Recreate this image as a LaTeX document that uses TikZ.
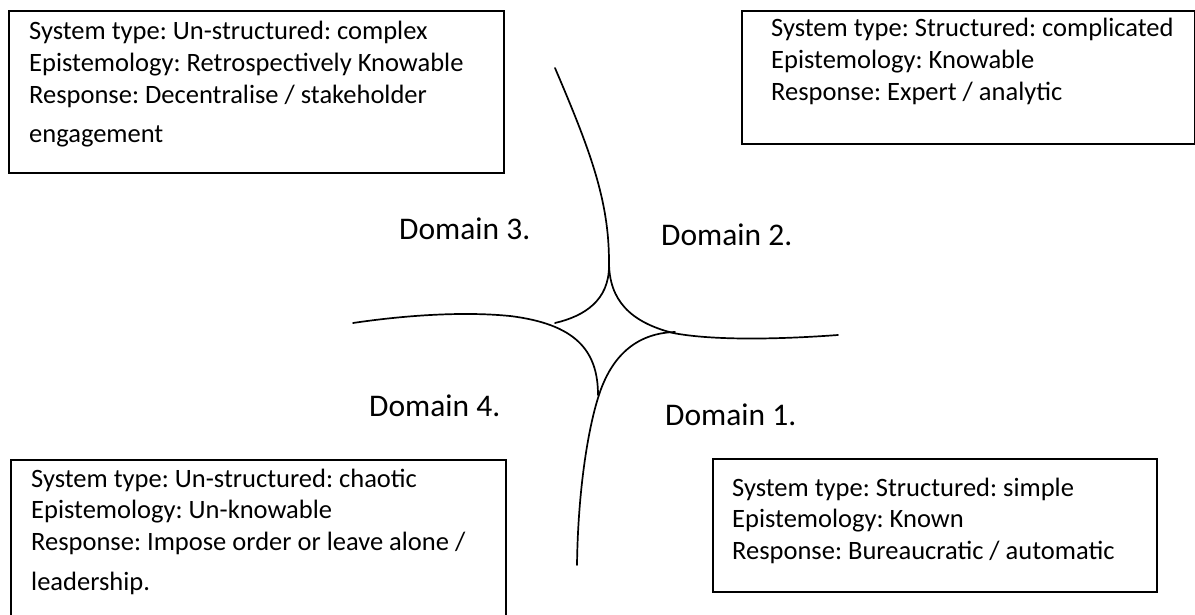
\documentclass[tikz,border=0pt]{standalone}
\usepackage{fontspec}
\setmainfont{Carlito}
\frenchspacing
\begin{document}
\begin{tikzpicture}[x=1pt,y=-1pt,
  frame/.style={draw, line width=1.8pt, inner sep=0pt, anchor=north west},
  info/.style={anchor=base west, inner sep=0pt, font=\fontsize{26.5}{31.8}\selectfont},
  dom/.style={anchor=base west, inner sep=0pt, font=\fontsize{31.5}{38}\selectfont},
  rim/.style={line width=1.7pt, line cap=round}]
\useasboundingbox (0,0) rectangle (1195,615);

% description frames
\node[frame, minimum width=495pt, minimum height=162pt] (frame3) at (8,10) {};
\node[frame, minimum width=453pt, minimum height=133pt] (frame2) at (741,10) {};
\node[frame, minimum width=495pt, minimum height=175pt] (frame4) at (10,459) {};
\node[frame, minimum width=444pt, minimum height=133pt] (frame1) at (712,458) {};

% frame contents
\node[info] (text3) at (29,40) {\begin{tabular}[t]{@{}l@{}}System type: Un-structured: complex\\Epistemology: Retrospectively Knowable\\Response: Decentralise / stakeholder\\[7pt]engagement\end{tabular}};
\node[info] (text2) at (771,37) {\begin{tabular}[t]{@{}l@{}}System type: Structured: complicated\\Epistemology: Knowable\\Response: Expert / analytic\end{tabular}};
\node[info] (text4) at (31,487) {\begin{tabular}[t]{@{}l@{}}System type: Un-structured: chaotic\\Epistemology: Un-knowable\\Response: Impose order or leave alone /\\[8pt]leadership.\end{tabular}};
\node[info] (text1) at (732,496) {\begin{tabular}[t]{@{}l@{}}System type: Structured: simple\\Epistemology: Known\\Response: Bureaucratic / automatic\end{tabular}};

% domain labels
\node[dom] (dom3) at (399,239) {Domain 3.};
\node[dom] (dom2) at (661,245) {Domain 2.};
\node[dom] (dom4) at (369,416) {Domain 4.};
\node[dom] (dom1) at (665,425) {Domain 1.};

% boundary curves meeting in the central cusp
\draw[rim] (555,68) .. controls (590,150) and (609,200) .. (609,262)
  .. controls (609,300) and (630,322) .. (673,333)
  .. controls (710,340) and (770,340) .. (838,335);
\draw[rim] (609,266) .. controls (609,300) and (585,316) .. (555,323);
\draw[rim] (353,323) .. controls (400,316) and (460,311) .. (510,316)
  .. controls (575,324) and (598,350) .. (598,395);
\draw[rim] (577,565) .. controls (578,490) and (588,430) .. (598,398)
  .. controls (612,352) and (640,333) .. (675,332);
\end{tikzpicture}
\end{document}
